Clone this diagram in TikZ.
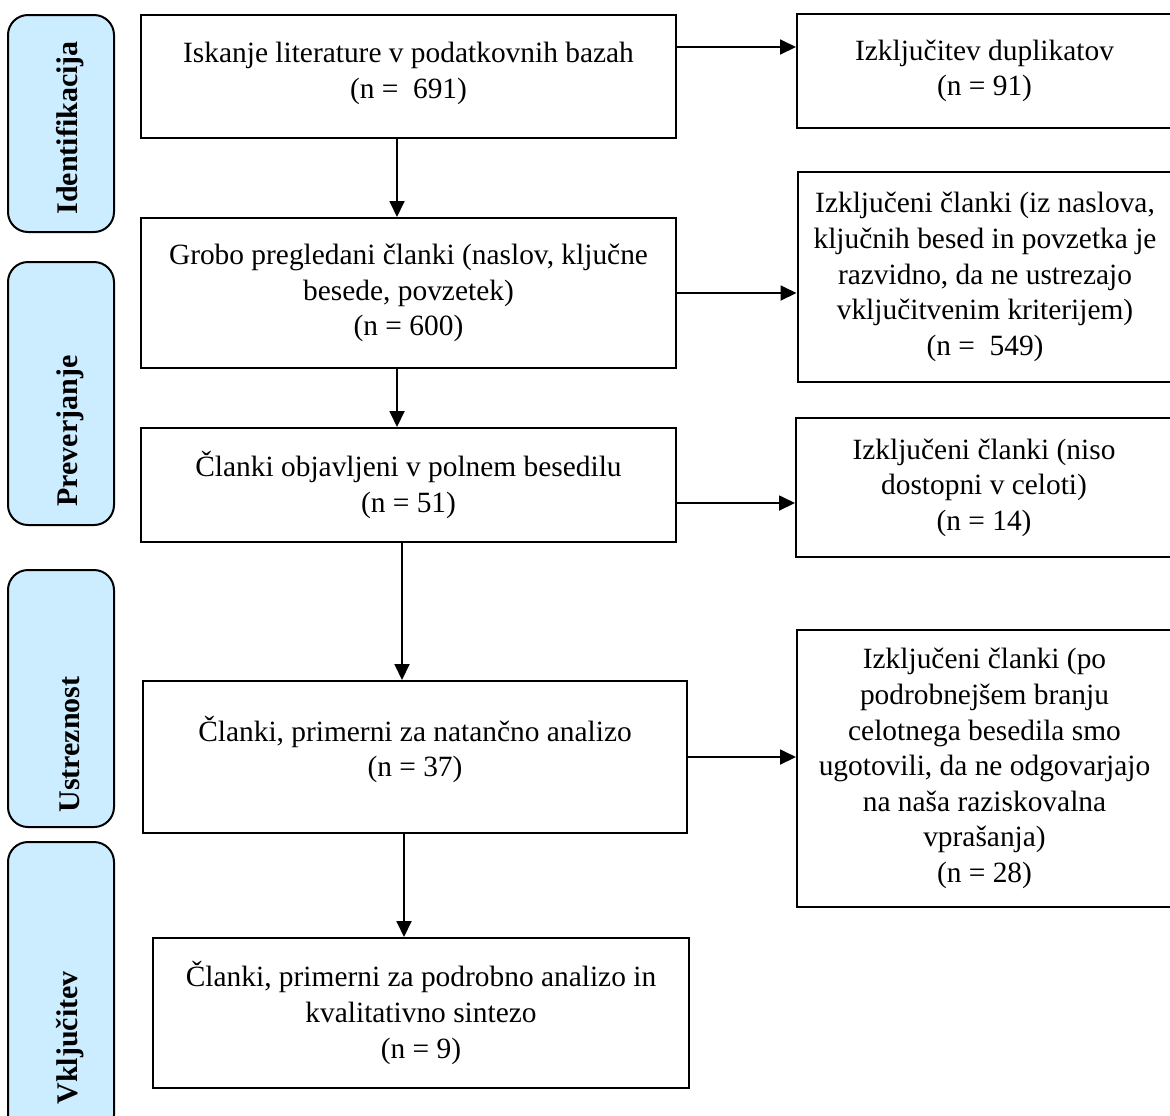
\documentclass[tikz,border=0pt]{standalone}
\usepackage{fontspec}
\setmainfont{Liberation Serif}
\usepackage{xcolor}
\definecolor{phaseblue}{RGB}{204,236,255}
\usetikzlibrary{arrows.meta, positioning}

\begin{document}
\begin{tikzpicture}[x=0.5pt,y=-0.5pt,
  box/.style={draw, line width=1pt, align=center, inner sep=0pt,
    font=\fontsize{14.7}{17.8}\selectfont},
  phase/.style={draw, line width=1pt, rounded corners=10pt, fill=phaseblue,
    minimum width=53pt},
  phaselabel/.style={rotate=90, anchor=west, inner sep=0pt,
    font=\fontsize{15}{17}\selectfont\bfseries},
  flow/.style={-{Triangle[length=8pt,width=7.5pt]}, line width=0.9pt}]
\useasboundingbox (0,0) rectangle (1170,1115);

% phases on the left
\node[phase, minimum height=108.5pt] (phId) at (61,123.5) {};
\node[phase, minimum height=131.5pt] (phScr) at (61,393.5) {};
\node[phase, minimum height=128.5pt] (phElig) at (61,698.5) {};
\node[phase, minimum height=146.5pt] (phIncl) at (61,988.5) {};
\node[phaselabel] (lbId) at (70,215) {Identifikacija};
\node[phaselabel] (lbScr) at (70,507) {Preverjanje};
\node[phaselabel] (lbElig) at (70,813) {Ustreznost};
\node[phaselabel] (lbIncl) at (70,1105) {Vključitev};

% main flow
\node[box, minimum width=267.5pt, minimum height=61.5pt, text depth=6.5pt] (search) at (408.5,76.5)
  {Iskanje literature v podatkovnih bazah\\(n = \ 691)};
\node[box, minimum width=267.5pt, minimum height=75pt] (screen) at (408.5,293)
  {Grobo pregledani članki (naslov, ključne\\besede, povzetek)\\(n = 600)};
\node[box, minimum width=267.5pt, minimum height=57pt] (fulltext) at (408.5,485)
  {Članki objavljeni v polnem besedilu\\(n = 51)};
\node[box, minimum width=272pt, minimum height=76pt, text depth=10.5pt] (eligible) at (415,757)
  {Članki, primerni za natančno analizo\\(n = 37)};
\node[box, minimum width=268pt, minimum height=75pt] (included) at (421,1013)
  {Članki, primerni za podrobno analizo in\\kvalitativno sintezo\\(n = 9)};

% excluded
\node[box, minimum width=187.5pt, minimum height=57pt] (dup) at (984.5,71)
  {Izključitev duplikatov\\(n = 91)};
\node[box, minimum width=187.5pt, minimum height=105pt] (exclA) at (985,277)
  {Izključeni članki (iz naslova,\\ključnih besed in povzetka je\\razvidno, da ne ustrezajo\\vključitvenim kriterijem)\\(n = \ 549)};
\node[box, minimum width=188pt, minimum height=69.5pt] (exclB) at (984,487.5)
  {Izključeni članki (niso\\dostopni v celoti)\\(n = 14)};
\node[box, minimum width=187.5pt, minimum height=138.5pt] (exclC) at (984.5,768.5)
  {Izključeni članki (po\\podrobnejšem branju\\celotnega besedila smo\\ugotovili, da ne odgovarjajo\\na naša raziskovalna\\vprašanja)\\(n = 28)};

% arrows down
\draw[flow] ([xshift=-5.75pt]search.south) -- ([xshift=-5.75pt]search.south |- screen.north);
\draw[flow] ([xshift=-5.75pt]screen.south) -- ([xshift=-5.75pt]screen.south |- fulltext.north);
\draw[flow] ([xshift=-3.25pt]fulltext.south) -- ([xshift=-3.25pt]fulltext.south |- eligible.north);
\draw[flow] ([xshift=-5.5pt]eligible.south) -- ([xshift=-5.5pt]eligible.south |- included.north);

% arrows right
\coordinate (s1) at ([yshift=14.75pt]search.east);
\coordinate (s3) at ([yshift=-9pt]fulltext.east);
\draw[flow] (s1) -- (s1 -| dup.west);
\draw[flow] (screen.east) -- (screen.east -| exclA.west);
\draw[flow] (s3) -- (s3 -| exclB.west);
\draw[flow] (eligible.east) -- (eligible.east -| exclC.west);
\end{tikzpicture}
\end{document}
